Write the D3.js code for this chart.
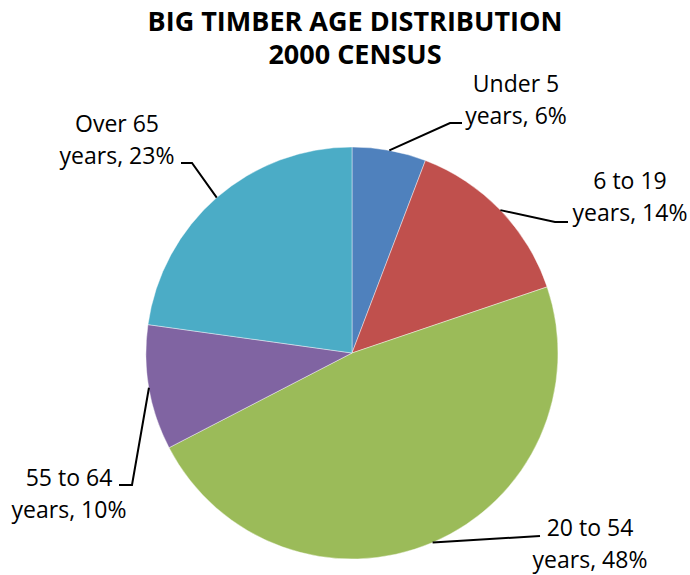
<!DOCTYPE html>
<html>
<head>
<meta charset="utf-8">
<script src="https://cdn.jsdelivr.net/npm/d3@7"></script>
<style>
  body { margin: 0; background: #fff; }
  svg text { font-family: "Open Sans", Lato, "Liberation Sans", sans-serif; fill: #000; }
</style>
</head>
<body>
<svg></svg>
<script>
const categories = ["Under 5", "6 to 19", "20 to 54", "55 to 64", "Over 65"];
const values = [5.8, 14.0, 47.6, 9.8, 22.8]; // percent of population
const labelLines = [
  ["Under 5", "years, 6%"],
  ["6 to 19", "years, 14%"],
  ["20 to 54", "years, 48%"],
  ["55 to 64", "years, 10%"],
  ["Over 65", "years, 23%"],
];
const titleLines = ["BIG TIMBER AGE DISTRIBUTION", "2000 CENSUS"];
const colors = ["#4F81BD", "#C0504D", "#9BBB59", "#8064A2", "#4BACC6"];

const width = 690;
const height = 575;
const cx = 352;
const cy = 353;
const radius = 206;

// where each label sits: text centre x, first baseline, leader elbow and end
const labelLayout = [
  { x: 516, y: 92, elbow: [450, 123], endX: 462 },
  { x: 630, y: 189, elbow: [555, 222], endX: 568 },
  { x: 590, y: 536, elbow: [540, 536], endX: 540 },
  { x: 69, y: 486, elbow: [132, 485], endX: 119 },
  { x: 117, y: 132, elbow: [192, 163], endX: 181 },
];

const svg = d3.select("svg").attr("width", width).attr("height", height);

let pie = d3.pie().sort(null).value((d) => d);
let arcs = pie(values);
let arc = d3.arc().innerRadius(0).outerRadius(radius);

let g = svg.append("g").attr("transform", "translate(" + cx + "," + cy + ")");

g.selectAll("path")
  .data(arcs)
  .enter()
  .append("path")
  .attr("d", arc)
  .attr("fill", (d, i) => colors[i])
  .attr("stroke", "#fff")
  .attr("stroke-width", 0.6)
  .attr("stroke-opacity", 0.7);

// leader lines: start on the rim at the slice's middle angle
let line = d3.line();
svg.selectAll(".leader")
  .data(arcs)
  .enter()
  .append("path")
  .attr("class", "leader")
  .attr("fill", "none")
  .attr("stroke", "#000")
  .attr("stroke-width", 2)
  .attr("d", (d, i) => {
    let mid = (d.startAngle + d.endAngle) / 2;
    let sx = cx + radius * Math.sin(mid);
    let sy = cy - radius * Math.cos(mid);
    let lay = labelLayout[i];
    return line([[sx, sy], lay.elbow, [lay.endX, lay.elbow[1]]]);
  });

svg.selectAll(".label")
  .data(labelLines)
  .enter()
  .append("text")
  .attr("class", "label")
  .attr("text-anchor", "middle")
  .style("font-size", "23px")
  .each(function (lines, i) {
    let lay = labelLayout[i];
    d3.select(this)
      .selectAll("tspan")
      .data(lines)
      .enter()
      .append("tspan")
      .attr("x", lay.x)
      .attr("y", (t, j) => lay.y + j * 32)
      .text((t) => t);
  });

// two title lines as separate texts
svg.selectAll(".title")
  .data(titleLines)
  .enter()
  .append("text")
  .attr("class", "title")
  .attr("text-anchor", "middle")
  .style("font-size", "27px")
  .style("font-weight", "bold")
  .attr("x", 355)
  .attr("y", (t, j) => 31 + j * 33)
  .text((t) => t);
</script>
</body>
</html>
